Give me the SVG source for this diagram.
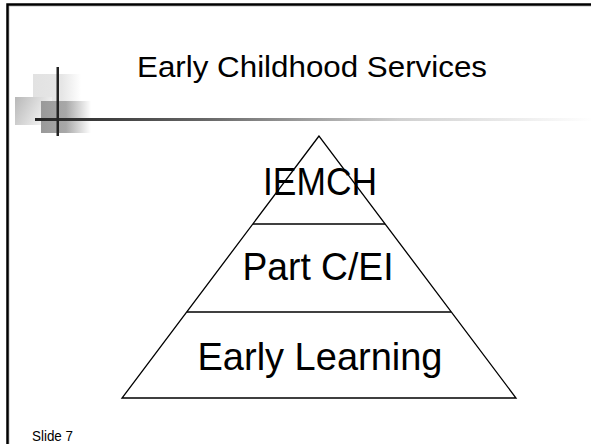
<svg xmlns="http://www.w3.org/2000/svg" width="591" height="444" viewBox="0 0 591 444">
<defs>
<linearGradient id="rule" x1="0" y1="0" x2="1" y2="0">
<stop offset="0" stop-color="#222"/>
<stop offset="0.3" stop-color="#666"/>
<stop offset="0.65" stop-color="#d0d0d0"/>
<stop offset="1" stop-color="#fff"/>
</linearGradient>
<linearGradient id="sqA" x1="0" y1="0" x2="1" y2="0">
<stop offset="0" stop-color="#e2e2e2"/>
<stop offset="0.6" stop-color="#e6e6e6"/>
<stop offset="1" stop-color="#fff"/>
</linearGradient>
<linearGradient id="sqB" x1="0" y1="0" x2="1" y2="0.4">
<stop offset="0" stop-color="#b8b8b8"/>
<stop offset="1" stop-color="#f4f4f4"/>
</linearGradient>
<linearGradient id="sqC" x1="0" y1="0" x2="1" y2="0">
<stop offset="0" stop-color="#999"/>
<stop offset="0.5" stop-color="#a8a8a8"/>
<stop offset="1" stop-color="#fff"/>
</linearGradient>
</defs>
<style>
.t{font-family:"Liberation Sans",Arial,sans-serif;fill:#000;text-anchor:middle}
.ln{stroke:#000;stroke-width:1.3;fill:none}
</style>
<rect width="591" height="444" fill="#fff"/>
<g id="frame">
<path d="M9 444 V6 H591" fill="none" stroke="#bbb" stroke-width="1"/>
<path d="M7.5 444 V4.5 H591" fill="none" stroke="#000" stroke-width="2.5"/>
</g>
<g id="ornament">
<rect x="33" y="74" width="48" height="27" fill="url(#sqA)"/>
<rect x="15" y="97" width="37" height="28" fill="url(#sqB)"/>
<rect x="41" y="101" width="50" height="32" fill="url(#sqC)"/>
<rect x="35" y="118" width="560" height="3" fill="url(#rule)"/>
<rect x="56.5" y="67" width="2.5" height="69" fill="#222"/>
</g>
<g id="title">
<text class="t" x="312" y="77" font-size="30" textLength="350" lengthAdjust="spacingAndGlyphs">Early Childhood Services</text>
</g>
<g id="pyramid">
<polygon class="ln" points="319,136 122,398 516,398"/>
<line class="ln" x1="253" y1="224" x2="385" y2="224"/>
<line class="ln" x1="187" y1="312" x2="451" y2="312"/>
</g>
<g id="node-iemch">
<text class="t" x="320" y="195" font-size="39" textLength="114" lengthAdjust="spacingAndGlyphs">IEMCH</text>
</g>
<g id="node-partc">
<text class="t" x="318" y="280" font-size="38" textLength="151" lengthAdjust="spacingAndGlyphs">Part C/EI</text>
</g>
<g id="node-early">
<text class="t" x="320" y="370" font-size="39" textLength="245" lengthAdjust="spacingAndGlyphs">Early Learning</text>
</g>
<g id="footer">
<text x="32" y="441" font-size="14" font-family="Liberation Sans,Arial,sans-serif" textLength="41" lengthAdjust="spacingAndGlyphs">Slide 7</text>
</g>
</svg>
